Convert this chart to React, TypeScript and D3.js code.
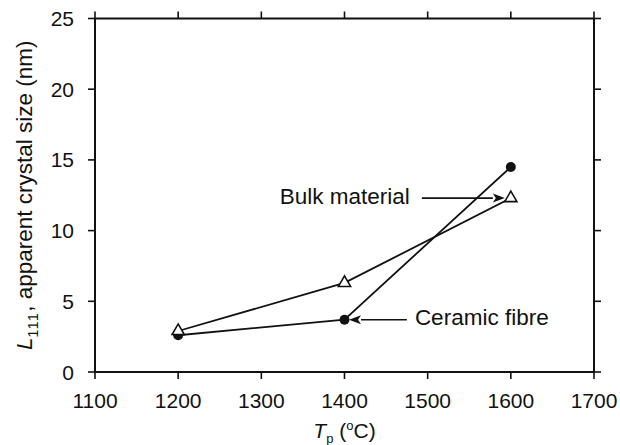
import React from "react";
import * as d3 from "d3";

// Pyrolysis temperature (°C) and apparent crystal size L111 (nm)
const temperatures = [1200, 1400, 1600];
const bulkMaterial = [2.9, 6.3, 12.3];
const ceramicFibre = [2.6, 3.7, 14.5];

const xTicks = [1100, 1200, 1300, 1400, 1500, 1600, 1700];
const yTicks = [0, 5, 10, 15, 20, 25];

// Callouts: label text, which series/point they point at, and where the arrow tail sits (°C)
const calloutLabels = ["Bulk material", "Ceramic fibre"];
const calloutSeries = ["bulk", "fibre"];
const calloutPointIndex = [2, 1];
const calloutTailX = [1493, 1475];

const W = 620;
const H = 445;
const FONT = "'Liberation Sans', Arial, Helvetica, sans-serif";

export default function App() {
  const x = d3.scaleLinear().domain([1100, 1700]).range([95, 594]);
  const y = d3.scaleLinear().domain([0, 25]).range([372, 18.5]);
  const [x0, x1] = x.range();
  const [y0, y1] = y.range();
  const tick = 7;

  const line = d3
    .line<[number, number]>()
    .x((d) => x(d[0]))
    .y((d) => y(d[1]));

  const bulkPts: [number, number][] = temperatures.map((t, i) => [t, bulkMaterial[i]]);
  const fibrePts: [number, number][] = temperatures.map((t, i) => [t, ceramicFibre[i]]);

  const tri = d3.symbol().type(d3.symbolTriangle).size(64)();

  return (
    <svg
      width={W}
      height={H}
      style={{ position: "absolute", left: 0, top: 0, background: "#fff" }}
      fontFamily={FONT}
    >
      {/* frame */}
      <rect x={x0} y={y1} width={x1 - x0} height={y0 - y1} fill="none" stroke="#111" strokeWidth={2} />

      {/* x ticks: bottom and top, pointing outward */}
      {xTicks.map((t) => (
        <g key={"xt" + t}>
          <line x1={x(t)} x2={x(t)} y1={y0} y2={y0 + tick} stroke="#111" strokeWidth={1.6} />
          <line x1={x(t)} x2={x(t)} y1={y1} y2={y1 - tick} stroke="#111" strokeWidth={1.6} />
          <text x={x(t)} y={408} textAnchor="middle" fontSize={21} fill="#111">
            {t}
          </text>
        </g>
      ))}

      {/* y ticks: left and right, pointing outward */}
      {yTicks.map((v) => (
        <g key={"yt" + v}>
          <line x1={x0 - tick} x2={x0} y1={y(v)} y2={y(v)} stroke="#111" strokeWidth={1.6} />
          <line x1={x1} x2={x1 + tick} y1={y(v)} y2={y(v)} stroke="#111" strokeWidth={1.6} />
          <text x={74} y={y(v)} dy="0.36em" textAnchor="end" fontSize={21} fill="#111">
            {v}
          </text>
        </g>
      ))}

      {/* axis titles */}
      <text x={(x0 + x1) / 2} y={438} textAnchor="middle" fontSize={21} fill="#111">
        <tspan fontStyle="italic">T</tspan>
        <tspan fontSize={13} dy={5}>p</tspan>
        <tspan dy={-5}> (</tspan>
        <tspan fontSize={13} dy={-8}>o</tspan>
        <tspan dy={8}>C)</tspan>
      </text>
      <text
        transform={`translate(32, ${(y0 + y1) / 2}) rotate(-90)`}
        textAnchor="middle"
        fontSize={22.5}
        fill="#111"
      >
        <tspan fontStyle="italic">L</tspan>
        <tspan fontSize={14} dy={6} letterSpacing={1.5}>111</tspan>
        <tspan dy={-6}>, apparent crystal size (nm)</tspan>
      </text>

      {/* series lines */}
      <path d={line(bulkPts) || ""} fill="none" stroke="#111" strokeWidth={1.8} />
      <path d={line(fibrePts) || ""} fill="none" stroke="#111" strokeWidth={1.8} />

      {/* ceramic fibre markers: filled circles */}
      {fibrePts.map((p, i) => (
        <circle key={"c" + i} cx={x(p[0])} cy={y(p[1])} r={5} fill="#111" />
      ))}
      {/* bulk material markers: open triangles */}
      {bulkPts.map((p, i) => (
        <path
          key={"t" + i}
          d={tri || ""}
          transform={`translate(${x(p[0])}, ${y(p[1])})`}
          fill="#fff"
          stroke="#111"
          strokeWidth={1.6}
        />
      ))}

      {/* callouts with arrows */}
      {calloutLabels.map((label, i) => {
        const pts = calloutSeries[i] === "bulk" ? bulkPts : fibrePts;
        const p = pts[calloutPointIndex[i]];
        const px = x(p[0]);
        const py = y(p[1]);
        const tailX = x(calloutTailX[i]);
        const dir = tailX < px ? 1 : -1; // arrow direction along x
        const gap = calloutSeries[i] === "bulk" ? 6 : 4.5;
        const tipX = px - dir * gap;
        const headLen = 12;
        const headHalf = 4.5;
        const baseX = tipX - dir * headLen;
        const textX = dir === 1 ? tailX - 12 : tailX + 8;
        return (
          <g key={"call" + i}>
            <line x1={tailX} x2={baseX} y1={py} y2={py} stroke="#111" strokeWidth={1.6} />
            <polygon
              points={`${tipX},${py} ${baseX},${py - headHalf} ${baseX + dir * 3},${py} ${baseX},${py + headHalf}`}
              fill="#111"
            />
            <text
              x={textX}
              y={py + 5.5}
              textAnchor={dir === 1 ? "end" : "start"}
              fontSize={22.5}
              fill="#111"
            >
              {label}
            </text>
          </g>
        );
      })}
    </svg>
  );
}
